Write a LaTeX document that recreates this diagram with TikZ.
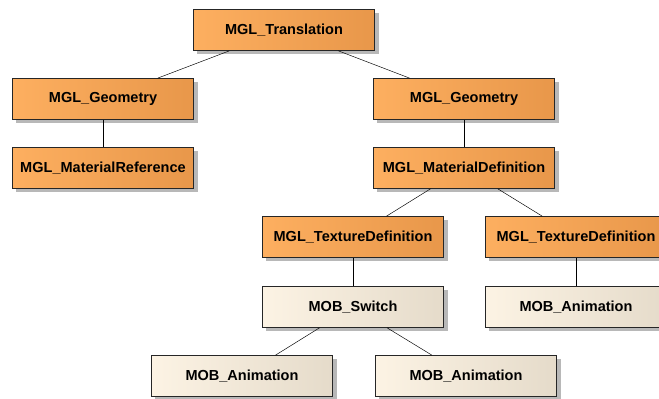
\documentclass[tikz,border=0pt]{standalone}
\usepackage{fontspec}
\setmainfont{Liberation Sans}
\usetikzlibrary{shadows}

\definecolor{orangeL}{HTML}{FDAF60}
\definecolor{orangeR}{HTML}{E8974A}
\definecolor{creamL}{HTML}{FCF3E4}
\definecolor{creamR}{HTML}{E5DBCA}

\begin{document}
\begin{tikzpicture}[x=0.03cm, y=-0.03cm]
\tikzset{every node/.style={font=\bfseries\fontsize{12.4}{14}\selectfont},
  box/.style={draw=black!85, line width=0.6pt, minimum width=5.43cm, minimum height=1.23cm,
    inner sep=0pt, drop shadow={shadow xshift=0.12cm, shadow yshift=-0.12cm, fill=black!28, opacity=1}},
  mgl/.style={box, left color=orangeL, right color=orangeR},
  mob/.style={box, left color=creamL, right color=creamR}}
        \useasboundingbox (0, 0) rectangle (659, 399);

        \node[mgl] (trans) at (284, 30) {MGL\_Translation};
        \node[mgl] (geomL) at (103, 99) {MGL\_Geometry};
        \node[mgl] (matref) at (103, 168) {MGL\_MaterialReference};
        \node[mgl] (geomR) at (464, 99) {MGL\_Geometry};
        \node[mgl] (matdef) at (464, 168) {MGL\_MaterialDefinition};
        \node[mgl] (texL) at (353, 237) {MGL\_TextureDefinition};
        \node[mgl] (texR) at (576, 237) {MGL\_TextureDefinition};
        \node[mob] (switch) at (353, 307) {MOB\_Switch};
        \node[mob] (animR) at (576, 307) {MOB\_Animation};
        \node[mob] (animA) at (242, 376) {MOB\_Animation};
        \node[mob] (animB) at (466, 376) {MOB\_Animation};

        \draw (trans) -- (geomL);
        \draw (trans) -- (geomR);
        \draw (geomL) -- (matref);
        \draw (geomR) -- (matdef);
        \draw (matdef) -- (texL);
        \draw (matdef) -- (texR);
        \draw (texL) -- (switch);
        \draw (texR) -- (animR);
        \draw (switch) -- (animA);
        \draw (switch) -- (animB);
\end{tikzpicture}
\end{document}
